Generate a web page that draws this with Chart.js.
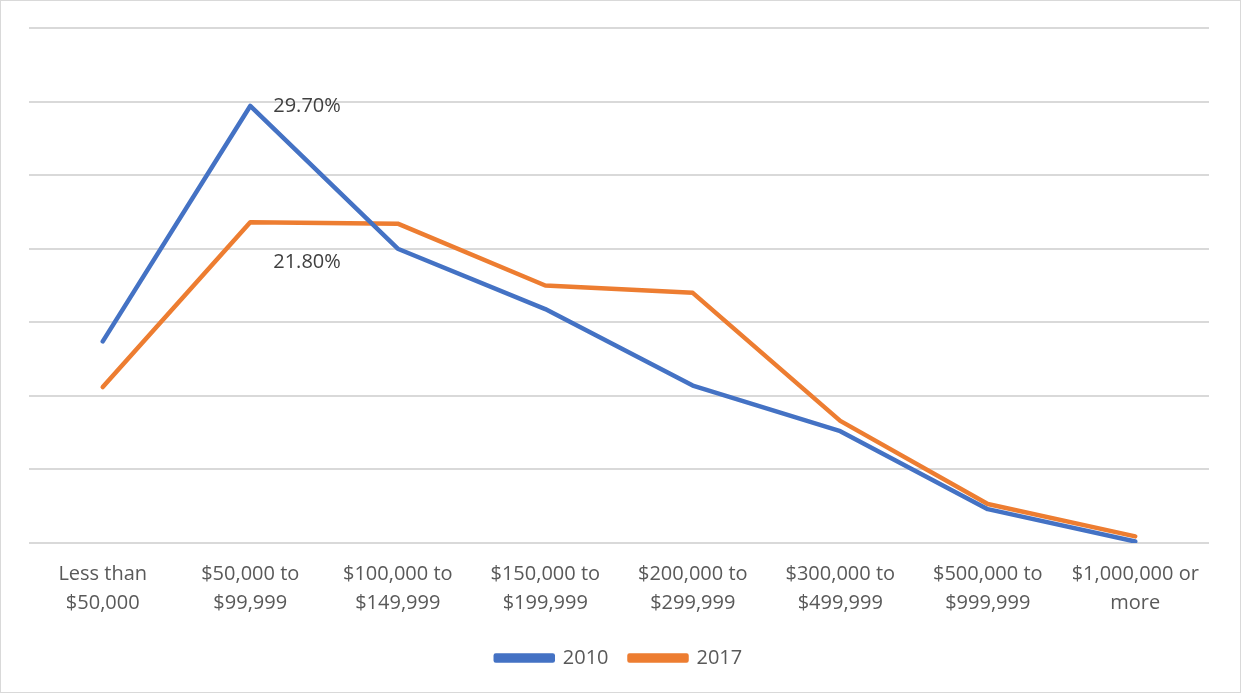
<!DOCTYPE html>
<html>
<head>
<meta charset="utf-8">
<script src="https://cdn.jsdelivr.net/npm/chart.js@4"></script>
<style>
html,body{margin:0;padding:0;background:#fff;}
#wrap{position:absolute;left:0;top:0;width:1239px;height:691px;border:1px solid #d9d9d9;background:#fff;}
canvas{display:block;}
</style>
</head>
<body>
<div id="wrap"><canvas id="c" width="1239" height="691"></canvas></div>
<script>
const categories = [
  ["Less than", "$50,000"],
  ["$50,000 to", "$99,999"],
  ["$100,000 to", "$149,999"],
  ["$150,000 to", "$199,999"],
  ["$200,000 to", "$299,999"],
  ["$300,000 to", "$499,999"],
  ["$500,000 to", "$999,999"],
  ["$1,000,000 or", "more"]
];
const series2010 = [13.7, 29.7, 20.0, 15.9, 10.7, 7.6, 2.3, 0.1];
const series2017 = [10.6, 21.8, 21.7, 17.5, 17.0, 8.3, 2.65, 0.45];
const seriesNames = ["2010", "2017"];
const labelled = [{ds: 0, idx: 1, text: "29.70%", dy: 0}, {ds: 1, idx: 1, text: "21.80%", dy: 40}];

const FONT = "'Open Sans', 'Noto Sans', sans-serif";
Chart.defaults.font.family = FONT;
Chart.defaults.color = '#595959';

const labelPlugin = {
  id: 'pointLabels',
  afterDatasetsDraw(chart) {
    const ctx = chart.ctx;
    ctx.save();
    ctx.font = "20px " + FONT;
    ctx.fillStyle = '#404040';
    ctx.textAlign = 'left';
    ctx.textBaseline = 'middle';
    labelled.forEach(l => {
      const p = chart.getDatasetMeta(l.ds).data[l.idx];
      ctx.fillText(l.text, p.x + 23, p.y + l.dy);
    });
    ctx.restore();
  }
};

new Chart(document.getElementById('c'), {
  type: 'line',
  data: {
    labels: categories,
    datasets: [
      {label: seriesNames[0], data: series2010, borderColor: '#4472C4', backgroundColor: '#4472C4', borderWidth: 4.5, pointRadius: 0, tension: 0, borderJoinStyle: 'round', borderCapStyle: 'round'},
      {label: seriesNames[1], data: series2017, borderColor: '#ED7D31', backgroundColor: '#ED7D31', borderWidth: 4.5, pointRadius: 0, tension: 0, borderJoinStyle: 'round', borderCapStyle: 'round'}
    ]
  },
  options: {
    responsive: false,
    animation: false,
    devicePixelRatio: 1,
    layout: {padding: {left: 28, right: 31, top: 27, bottom: 14}},
    plugins: {
      legend: {
        position: 'bottom',
        labels: {boxWidth: 57, boxHeight: 5, font: {size: 20, family: FONT}, color: '#595959', padding: 21}
      },
      tooltip: {enabled: false}
    },
    scales: {
      x: {
        offset: true,
        grid: {display: false},
        border: {display: false},
        ticks: {font: {size: 20, family: FONT, lineHeight: 1.45}, color: '#595959', maxRotation: 0, autoSkip: false, padding: 9}
      },
      y: {
        min: 0, max: 35,
        ticks: {display: false, stepSize: 5},
        grid: {color: '#d9d9d9', lineWidth: 2, drawTicks: false},
        border: {display: false}
      }
    }
  },
  plugins: [labelPlugin]
});
</script>
</body>
</html>
